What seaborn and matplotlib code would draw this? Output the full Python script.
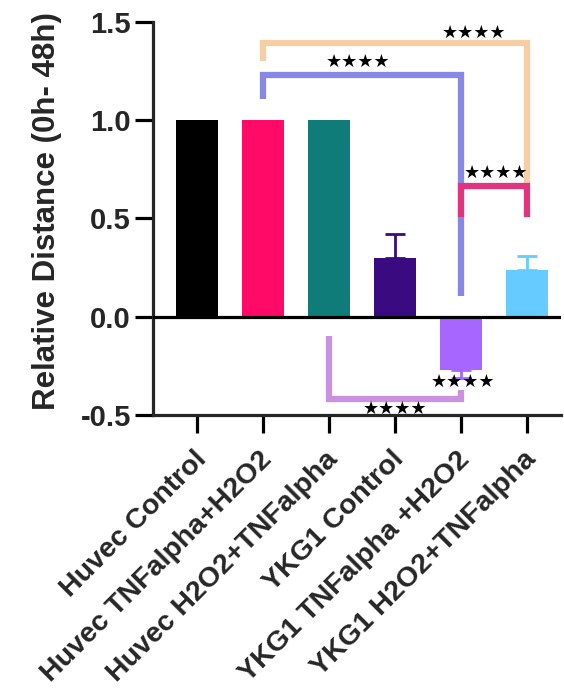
import matplotlib
matplotlib.use("Agg")
import matplotlib.pyplot as plt
import matplotlib.transforms as mtransforms
import seaborn as sns
import pandas as pd

# ---------------- data ----------------
categories = ["Huvec Control", "Huvec TNFalpha+H2O2", "Huvec H2O2+TNFalpha",
              "YKG1 Control", "YKG1 TNFalpha +H2O2", "YKG1 H2O2+TNFalpha"]
values = [1.0, 1.0, 1.0, 0.30, -0.27, 0.24]
err_up = [0.0, 0.0, 0.0, 0.12, 0.0, 0.07]
err_down = [0.0, 0.0, 0.0, 0.0, 0.04, 0.0]
bar_colors = ["#000000", "#FF0A66", "#0F7C7A", "#3A0A80", "#A666FF", "#66CCFF"]

yticks = [-0.5, 0.0, 0.5, 1.0, 1.5]
ytick_labels = ["-0.5", "0.0", "0.5", "1.0", "1.5"]
ylabel = "Relative Distance (0h- 48h)"

# significance brackets
br_x1 = [1, 1, 4, 2]
br_x2 = [5, 4, 5, 4]
br_level = [1.395, 1.23, 0.665, -0.42]
br_left_end = [1.30, 1.11, 0.51, -0.10]
br_right_end = [0.67, 0.107, 0.51, -0.375]
br_colors = ["#F5CFA3", "#8787E6", "#E0347E", "#CC90E0"]

star_x = [4.2, 2.44, 4.53, 4.03, 3.0]
star_y = [1.443, 1.296, 0.734, -0.33, -0.47]
star_label = "★★★★"

# ---------------- style ----------------
sns.set_style("ticks")
plt.rcParams['font.family'] = ['Liberation Sans', 'DejaVu Sans']

fig = plt.figure(figsize=(5.64, 6.93), dpi=100)
ax = fig.add_axes([0.2713, 0.4012, 0.7234, 0.5671])

df = pd.DataFrame({"group": categories, "value": values})
sns.barplot(data=df, x="group", y="value", hue="group", palette=bar_colors,
            width=0.65, errorbar=None, legend=False, saturation=1,
            linewidth=0, ax=ax)

for i in range(len(values)):
    if err_up[i] > 0 or err_down[i] > 0:
        ax.errorbar(i, values[i], yerr=[[err_down[i]], [err_up[i]]], fmt='none',
                    ecolor=bar_colors[i], elinewidth=2.0, capsize=7.5,
                    capthick=2.0, zorder=2)

ax.axhline(0, color='black', lw=2.3, zorder=3)

for x1, x2, lv, le, re, c in zip(br_x1, br_x2, br_level, br_left_end,
                                 br_right_end, br_colors):
    ax.plot([x1, x1, x2, x2], [le, lv, lv, re], color=c, lw=4.5,
            solid_capstyle='butt', solid_joinstyle='miter', clip_on=False,
            zorder=4)

for sx, sy in zip(star_x, star_y):
    ax.text(sx, sy, star_label, ha='center', va='center', fontsize=13,
            color='black', family=['DejaVu Sans'], zorder=6, clip_on=False)

ax.set_xlim(-0.667, 5.515)
ax.set_ylim(-0.5, 1.5)
ax.set_yticks(yticks)
ax.set_yticklabels(ytick_labels, fontsize=21, fontweight='bold')
ax.set_xticks(range(len(categories)))
ax.set_xticklabels(categories, rotation=45, ha='right', rotation_mode='anchor',
                   fontsize=20.5, fontweight='bold')
ax.set_xlabel("")
ax.set_ylabel(ylabel, fontsize=22.5, fontweight='bold')
ax.yaxis.set_label_coords(-0.222, 0.52)

for s in ['top', 'right']:
    ax.spines[s].set_visible(False)
for s in ['left', 'bottom']:
    ax.spines[s].set_linewidth(2.3)
ax.tick_params(axis='both', width=2.3, length=13, color='black', pad=3)

offset = mtransforms.ScaledTranslation(-0.04, -0.09, fig.dpi_scale_trans)
for lbl in ax.get_xticklabels():
    lbl.set_transform(lbl.get_transform() + offset)

fig.savefig("out.png", dpi=100)
